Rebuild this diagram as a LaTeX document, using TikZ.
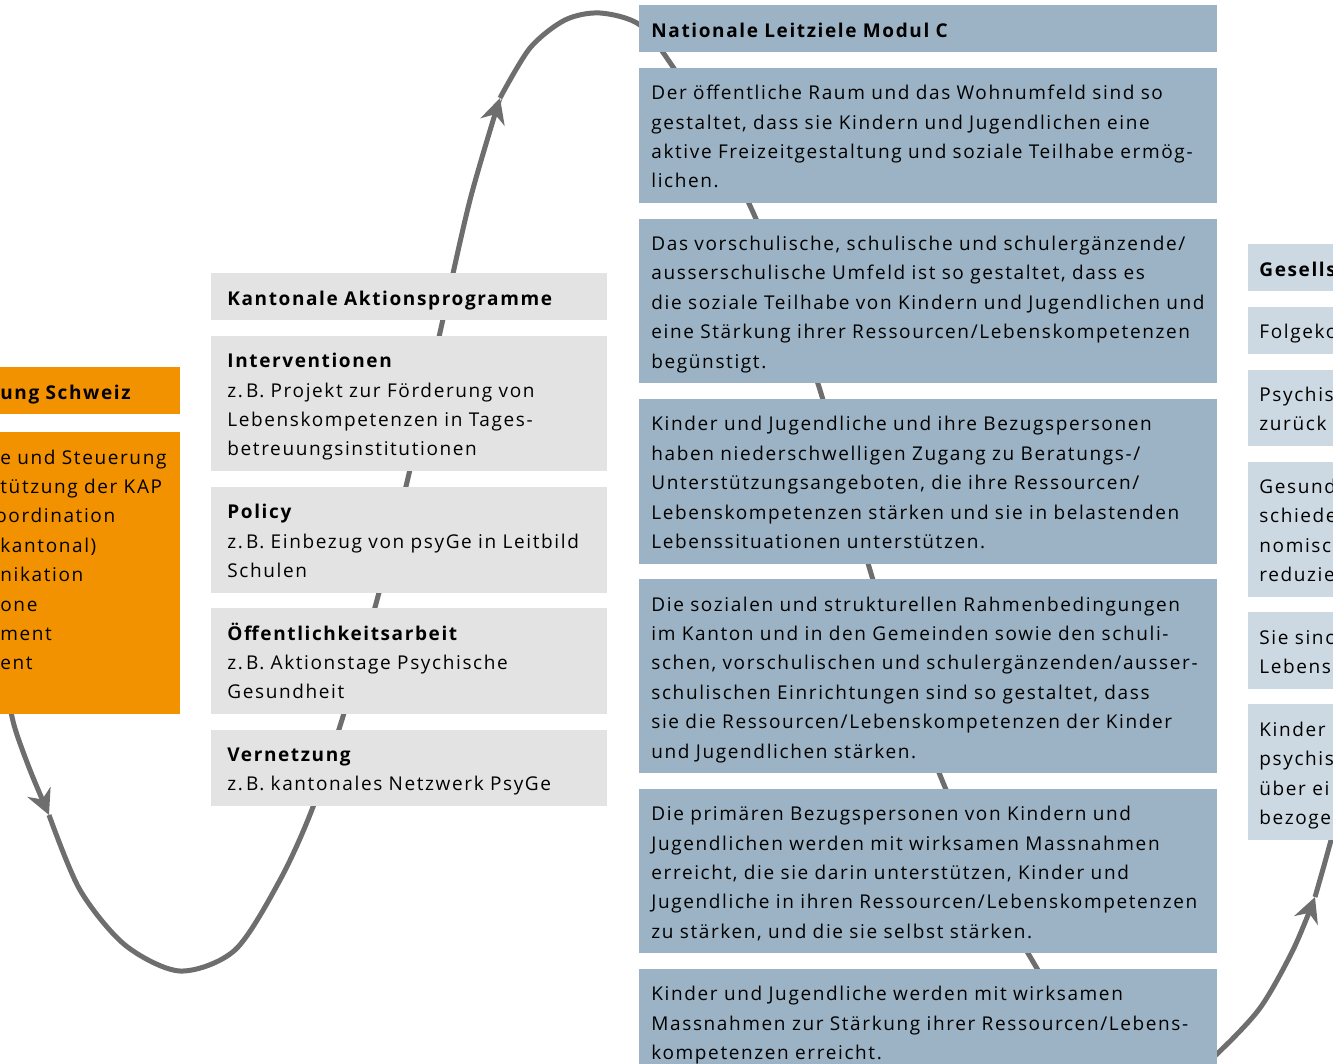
\documentclass[tikz,border=0pt]{standalone}
\usepackage{fontspec}
\setmainfont{Open Sans}[LetterSpace=8.5]
\usetikzlibrary{positioning,arrows.meta}
\definecolor{leitblau}{HTML}{9BB3C4}
\definecolor{hellblau}{HTML}{CCD9E2}
\definecolor{kapgrau}{HTML}{E3E3E3}
\definecolor{bundorange}{HTML}{F39200}
\definecolor{kurvengrau}{HTML}{6E6E6E}
\newcommand{\zeilenstrut}{\rule[-3.2pt]{0pt}{14.7pt}}

\begin{document}
\begin{tikzpicture}[
  x=0.5pt, y=-0.5pt,
  node distance=7.4pt,
  box/.style={rectangle, anchor=north west, align=left, inner xsep=0pt, inner ysep=4.4pt, font=\fontsize{9.5pt}{14.7pt}\selectfont, execute at end node=\zeilenstrut},
  kopf/.style={font=\fontsize{9.5pt}{14.7pt}\selectfont\bfseries},
  ziel/.style={box, fill=leitblau, text width=289pt, execute at begin node={\leftskip=6pt\zeilenstrut}},
  kap/.style={box, fill=kapgrau, text width=198pt, execute at begin node={\leftskip=8pt\zeilenstrut}},
  wirkung/.style={box, fill=hellblau, text width=150pt, execute at begin node={\leftskip=5.5pt\zeilenstrut}},
  bund/.style={box, fill=bundorange, text width=90pt, execute at begin node=\zeilenstrut},
  kurve/.style={draw=kurvengrau, line width=2.5pt},
  pfeil/.style={kurve, -{Stealth[length=12.5pt, width=12.5pt, inset=4pt]}}
]
  \useasboundingbox (0,0) rectangle (1333,1064);
  \clip (0,0) rectangle (1333,1064);

  % wave behind the boxes
  \coordinate (spitze1) at (49,815);
  \coordinate (spitze2) at (500,98);
  \coordinate (spitze3) at (1315,897);
  \draw[pfeil] plot[smooth] coordinates {(5,680) (14,725) (30,770) (spitze1)};
  \draw[pfeil] plot[smooth] coordinates {(spitze1) (80,890) (125,945) (180,971) (235,950) (280,880) (313,807) (345,710) (377,600) (408,478) (441,328) (470,200) (spitze2)};
  \draw[pfeil] plot[smooth] coordinates {(spitze2) (530,48) (565,20) (600,13) (640,25) (673,67) (712,130) (752,210) (787,295) (820,390) (845,480) (870,570) (903,675) (942,780) (985,875) (1032,960) (1080,1035) (1140,1085) (1190,1075) (1218,1053) (1260,1008) (1293,950) (spitze3)};
  \draw[kurve] plot[smooth] coordinates {(spitze3) (1325,862) (1342,800)};

  % Bund
  \node[bund, kopf] (bundkopf) at (0,367) {ung Schweiz};
  \node[bund, below=8.5pt of bundkopf.south west, anchor=north west] (bundtext) {e und Steuerung\\
tützung der KAP\\
\hspace*{-2.5pt}oordination\\
kantonal)\\
nikation\\
one\\
ment\\
ent\\
\mbox{}};

  % Kantonale Aktionsprogramme
  \node[kap, kopf] (kapkopf) at (211,273) {Kantonale Aktionsprogramme};
  \node[kap, below=of kapkopf] (interv) {\textbf{Interventionen}\\
z.\,B. Projekt zur Förderung von\\
Lebenskompetenzen in Tages-\\
betreuungsinstitutionen};
  \node[kap, below=of interv] (policy) {\textbf{Policy}\\
z.\,B. Einbezug von psyGe in Leitbild\\
Schulen};
  \node[kap, below=of policy] (oeffarbeit) {\textbf{Öffentlichkeitsarbeit}\\
z.\,B. Aktionstage Psychische\\
Gesundheit};
  \node[kap, below=of oeffarbeit] (vernetzung) {\textbf{Vernetzung}\\
z.\,B. kantonales Netzwerk PsyGe};

  % Nationale Leitziele
  \node[ziel, kopf] (zielkopf) at (639,5) {Nationale Leitziele Modul C};
  \node[ziel, below=of zielkopf] (ziel1) {Der öffentliche Raum und das Wohnumfeld sind so\\
gestaltet, dass sie Kindern und Jugendlichen eine\\
aktive Freizeitgestaltung und soziale Teilhabe ermög-\\
lichen.};
  \node[ziel, below=of ziel1] (ziel2) {Das vorschulische, schulische und schulergänzende/\\
ausserschulische Umfeld ist so gestaltet, dass es\\
die soziale Teilhabe von Kindern und Jugendlichen und\\
eine Stärkung ihrer Ressourcen/Lebenskompetenzen\\
begünstigt.};
  \node[ziel, below=of ziel2] (ziel3) {Kinder und Jugendliche und ihre Bezugspersonen\\
haben niederschwelligen Zugang zu Beratungs-/\\
Unterstützungsangeboten, die ihre Ressourcen/\\
Lebenskompetenzen stärken und sie in belastenden\\
Lebenssituationen unterstützen.};
  \node[ziel, below=of ziel3] (ziel4) {Die sozialen und strukturellen Rahmenbedingungen\\
im Kanton und in den Gemeinden sowie den schuli-\\
schen, vorschulischen und schulergänzenden/ausser-\\
schulischen Einrichtungen sind so gestaltet, dass\\
sie die Ressourcen/Lebenskompetenzen der Kinder\\
und Jugendlichen stärken.};
  \node[ziel, below=of ziel4] (ziel5) {Die primären Bezugspersonen von Kindern und\\
Jugendlichen werden mit wirksamen Massnahmen\\
erreicht, die sie darin unterstützen, Kinder und\\
Jugendliche in ihren Ressourcen/Lebenskompetenzen\\
zu stärken, und die sie selbst stärken.};
  \node[ziel, below=of ziel5] (ziel6) {Kinder und Jugendliche werden mit wirksamen\\
Massnahmen zur Stärkung ihrer Ressourcen/Lebens-\\
kompetenzen erreicht.\\
\mbox{}};

  % Wirkungen
  \node[wirkung, kopf] (wirkkopf) at (1248,244) {Gesells};
  \node[wirkung, below=of wirkkopf] (wirk1) {Folgeko};
  \node[wirkung, below=of wirk1] (wirk2) {Psychis\\
zurück};
  \node[wirkung, below=of wirk2] (wirk3) {Gesund\\
schiede\\
nomisc\\
reduzie};
  \node[wirkung, below=of wirk3] (wirk4) {Sie sinc\\
Lebens};
  \node[wirkung, below=of wirk4] (wirk5) {Kinder\\
psychis\\
über ei\\
bezoge};
\end{tikzpicture}
\end{document}
